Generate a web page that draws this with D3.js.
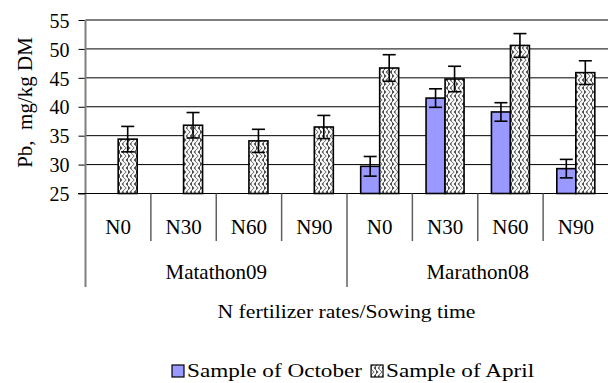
<!DOCTYPE html>
<html>
<head>
<meta charset="utf-8">
<script src="https://cdn.jsdelivr.net/npm/d3@7"></script>
<style>
  html, body { margin: 0; padding: 0; background: #fff; }
  svg { display: block; }
  text { font-family: "Liberation Serif", "Times New Roman", serif; fill: #000; }
</style>
</head>
<body>
<svg id="chart" width="608" height="383"></svg>
<script>
// Pb content by sowing time and N fertilizer rate
const groups = ["Matathon09", "Marathon08"];
const rates = ["N0", "N30", "N60", "N90"];
const seriesNames = ["Sample of October", "Sample of April"];
const octoberValues = [null, null, null, null, 29.7, 41.5, 39.1, 29.3];
const octoberErrors = [null, null, null, null, 1.7, 1.6, 1.6, 1.6];
const aprilValues = [34.4, 36.8, 34.1, 36.5, 46.7, 44.8, 50.6, 45.9];
const aprilErrors = [2.2, 2.2, 2.0, 2.0, 2.3, 2.2, 2.05, 2.05];
const yTicks = [25, 30, 35, 40, 45, 50, 55];

const categories = [];
groups.forEach(g => rates.forEach(r => categories.push(g + "|" + r)));

const svg = d3.select("#chart");
const plotLeft = 85.5, plotRight = 608.5, plotTop = 20, plotBottom = 193.5;

const x = d3.scaleBand().domain(categories).range([plotLeft, plotRight]).padding(0);
const inner = d3.scaleBand().domain(["oct", "apr"]).range([0, x.bandwidth()])
  .paddingInner(0).paddingOuter(0.72);
const y = d3.scaleLinear().domain([25, 55]).range([plotBottom, plotTop]);

// zigzag fill for the April series
const defs = svg.append("defs");
const pat = defs.append("pattern").attr("id", "zigzag")
  .attr("patternUnits", "userSpaceOnUse").attr("width", 8).attr("height", 8);
pat.append("rect").attr("width", 8).attr("height", 8).attr("fill", "#4a4a4a");
pat.append("path").attr("d", "M0,0 L4,4 L0,8 M4,0 L8,4 L4,8")
  .attr("fill", "none").attr("stroke", "#fff").attr("stroke-width", 2.2);

// horizontal gridlines
svg.append("g").selectAll("line").data(yTicks).join("line")
  .attr("x1", plotLeft).attr("x2", plotRight)
  .attr("y1", d => y(d)).attr("y2", d => y(d))
  .attr("stroke", "#000").attr("stroke-width", 1);

// y axis
const yAxis = svg.append("g").attr("transform", `translate(${plotLeft},0)`)
  .call(d3.axisLeft(y).tickValues(yTicks).tickSize(7).tickPadding(9));
yAxis.select(".domain").remove();
yAxis.selectAll(".tick line").attr("stroke", "#000");
yAxis.selectAll(".tick text").attr("font-size", 20).attr("dy", "0.36em")
  .style("font-family", "Liberation Serif");
svg.append("line").attr("x1", plotLeft).attr("x2", plotLeft).attr("y1", plotTop).attr("y2", 287)
  .attr("stroke", "#808080").attr("stroke-width", 2);

// bars
const barsG = svg.append("g");
function drawSeries(values, key, fill) {
  barsG.selectAll("rect." + key)
    .data(values.map((v, i) => ({ v, c: categories[i] })).filter(d => d.v != null))
    .join("rect").attr("class", key)
    .attr("x", d => x(d.c) + inner(key))
    .attr("width", inner.bandwidth())
    .attr("y", d => y(d.v))
    .attr("height", d => y(25) - y(d.v))
    .attr("fill", fill).attr("stroke", "#000").attr("stroke-width", 1.6);
}
drawSeries(octoberValues, "oct", "#9999ff");
drawSeries(aprilValues, "apr", "url(#zigzag)");

// error bars
function drawErrors(values, errs, key) {
  const data = values.map((v, i) => ({ v, e: errs[i], c: categories[i] })).filter(d => d.v != null);
  const g = svg.append("g").attr("stroke", "#000").attr("stroke-width", 1.6);
  data.forEach(d => {
    const cx = x(d.c) + inner(key) + inner.bandwidth() / 2;
    const y1 = y(d.v + d.e), y2 = y(d.v - d.e);
    g.append("line").attr("x1", cx).attr("x2", cx).attr("y1", y1).attr("y2", y2);
    g.append("line").attr("x1", cx - 6.5).attr("x2", cx + 6.5).attr("y1", y1).attr("y2", y1);
    g.append("line").attr("x1", cx - 6.5).attr("x2", cx + 6.5).attr("y1", y2).attr("y2", y2);
  });
}
drawErrors(octoberValues, octoberErrors, "oct");
drawErrors(aprilValues, aprilErrors, "apr");

// category axis
svg.append("line").attr("x1", 78).attr("x2", plotRight).attr("y1", plotBottom).attr("y2", plotBottom)
  .attr("stroke", "#000").attr("stroke-width", 1.2);
const sep = svg.append("g").attr("stroke", "#606060").attr("stroke-width", 1.5);
categories.forEach((c, i) => {
  if (i === 0) return;
  const isGroupEdge = i % rates.length === 0;
  sep.append("line").attr("x1", x(c)).attr("x2", x(c))
    .attr("y1", plotBottom).attr("y2", isGroupEdge ? 287 : 241);
});
svg.append("g").selectAll("text").data(categories).join("text")
  .attr("x", d => x(d) + x.bandwidth() / 2).attr("y", 234)
  .attr("text-anchor", "middle").attr("font-size", 21)
  .text(d => d.split("|")[1]);
svg.append("g").selectAll("text").data(groups).join("text")
  .attr("x", (g, gi) => {
    const a = x(categories[gi * rates.length]);
    const b = x(categories[gi * rates.length + rates.length - 1]) + x.bandwidth();
    return (a + b) / 2;
  })
  .attr("y", 279).attr("text-anchor", "middle").attr("font-size", 21).text(d => d);

// axis titles
svg.append("text").attr("transform", "translate(346.5,318) scale(1.14,1)")
  .attr("text-anchor", "middle").attr("font-size", 19)
  .text("N fertilizer rates/Sowing time");
svg.append("text").attr("transform", "translate(32,102.5) rotate(-90)")
  .attr("text-anchor", "middle").attr("font-size", 21)
  .style("white-space", "pre")
  .text("Pb,  mg/kg DM");

// legend
const legend = svg.append("g");
const swatchFills = ["#9999ff", "url(#zigzag)"];
let lx = 172;
seriesNames.forEach((name, i) => {
  legend.append("rect").attr("x", lx).attr("y", 365).attr("width", 12).attr("height", 12)
    .attr("fill", swatchFills[i]).attr("stroke", "#000").attr("stroke-width", 1.2);
  const t = legend.append("text").attr("transform", `translate(${lx + 15},377) scale(1.22,1)`)
    .attr("font-size", 19).text(name);
  lx += 15 + t.node().getComputedTextLength() * 1.22 + 9;
});
</script>
</body>
</html>
